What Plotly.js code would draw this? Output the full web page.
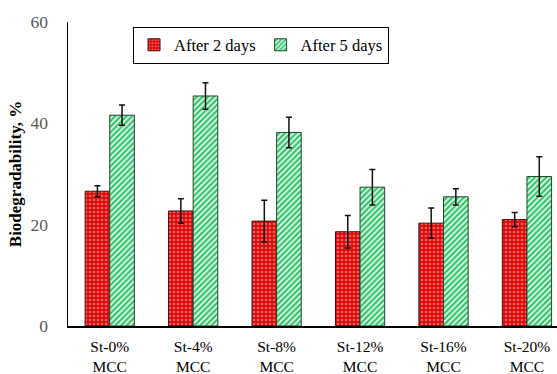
<!DOCTYPE html>
<html>
<head>
<meta charset="utf-8">
<script src="https://cdn.plot.ly/plotly-3.0.1.min.js"></script>
<style>html,body{margin:0;padding:0;background:#fff;}#chart{width:557px;height:374px;}</style>
</head>
<body>
<div id="chart"></div>
<script>
var categories = ["St-0%<br>MCC", "St-4%<br>MCC", "St-8%<br>MCC", "St-12%<br>MCC", "St-16%<br>MCC", "St-20%<br>MCC"];
var after2 = [26.6, 22.7, 20.7, 18.6, 20.3, 21.0];
var after2Err = [1.1, 2.4, 4.1, 3.2, 3.0, 1.4];
var after5 = [41.6, 45.4, 38.2, 27.4, 25.5, 29.5];
var after5Err = [2.0, 2.6, 3.0, 3.5, 1.6, 3.9];
var yTicks = [0, 20, 40, 60];

var font = "Times New Roman";
var traces = [
  {
    type: "bar", name: "After 2 days", x: categories, y: after2,
    marker: {color: "#e01010", line: {color: "#3a1010", width: 1},
      pattern: {shape: ".", fgcolor: "#f06060", bgcolor: "#dd0a0a", size: 4, solidity: 0.35}},
    error_y: {type: "data", array: after2Err, visible: true, color: "#111", thickness: 1.5, width: 3}
  },
  {
    type: "bar", name: "After 5 days", x: categories, y: after5,
    marker: {color: "#5fd98f", line: {color: "#1f4a2a", width: 1},
      pattern: {shape: "/", fgcolor: "#2fbf6a", bgcolor: "#d6f7e2", size: 4, solidity: 0.5}},
    error_y: {type: "data", array: after5Err, visible: true, color: "#111", thickness: 1.5, width: 3}
  }
];

var layout = {
  width: 557, height: 374,
  margin: {l: 68, r: 0, t: 22, b: 48},
  paper_bgcolor: "#fff", plot_bgcolor: "#fff",
  barmode: "group", bargap: 0.41, bargroupgap: 0,
  font: {family: font, color: "#000"},
  showlegend: true,
  legend: {orientation: "h", x: 0.133, y: 0.985, xanchor: "left", yanchor: "top",
    bordercolor: "#000", borderwidth: 1, bgcolor: "#fff",
    font: {family: font, size: 16.5, color: "#000"}, itemwidth: 30, tracegroupgap: 0},
  xaxis: {range: [-0.5, 5.36], showline: true, linecolor: "#000", linewidth: 1.5,
    ticks: "", ticklabelstandoff: 6, tickfont: {family: font, size: 15.5, color: "#000"}, showgrid: false, zeroline: false,
    fixedrange: true},
  yaxis: {range: [0, 60], tickvals: yTicks, showline: true, linecolor: "#000", linewidth: 1.5,
    ticks: "", ticklabelstandoff: 15, tickfont: {family: font, size: 17.5, color: "#595959"}, showgrid: false, zeroline: false,
    title: {text: "<b>Biodegradability, %</b>", font: {family: font, size: 17, color: "#000"}, standoff: 4}}
};

Plotly.newPlot("chart", traces, layout, {displayModeBar: false, staticPlot: true});
</script>
</body>
</html>
